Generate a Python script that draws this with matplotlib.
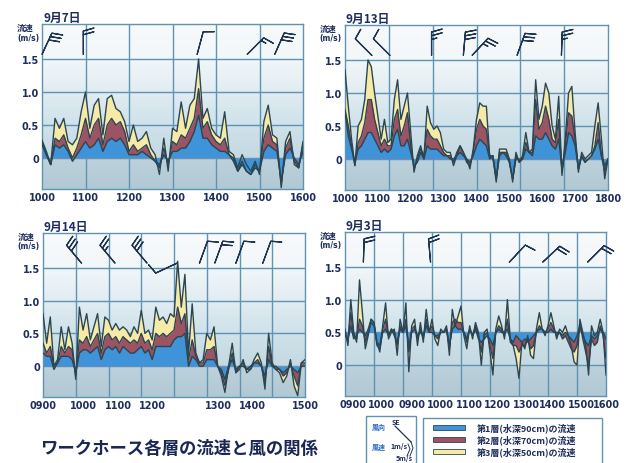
import numpy as np
import matplotlib
matplotlib.use('Agg')
import matplotlib.pyplot as plt
from matplotlib.colors import LinearSegmentedColormap
from matplotlib.patches import Rectangle

plt.rcParams['font.family'] = ['Noto Sans CJK JP', 'DejaVu Sans']

# 色
C_L1 = '#3f93d8'   # 第1層
C_L2 = '#9c5464'   # 第2層
C_L3 = '#f6eaa6'   # 第3層
C_EDGE = '#2b4652'
C_GRID = '#5f93b2'
C_TEXT = '#1d2d5c'
C_BARB = '#1f3550'

# ---- 9月7日 10:00-16:00 (6分毎) ----
d07_l3 = [0.27, 0.1, -0.1, 0.6, 0.45, 0.6, 0.25, 0.2, 0.3, 0.7,
          1.0, 0.45, 0.8, 0.9, 0.35, 0.9, 0.95, 0.75, 0.7, 0.55,
          0.25, 0.5, 0.25, 0.3, 0.4, 0.15, 0.05, -0.25, 0.3, -0.2,
          0.45, 0.4, 0.85, 0.45, 0.8, 0.9, 1.5, 0.6, 0.75, 0.45,
          0.35, 0.3, 0.7, 0.1, 0.05, -0.15, 0.05, -0.1, -0.2, -0.05,
          -0.25, 0.55, 0.8, 0.35, 0.3, -0.45, 0.25, 0.4, -0.1, -0.15,
          0.25]
d07_l2 = [0.25, 0.05, -0.1, 0.3, 0.25, 0.35, 0.15, 0.0, 0.15, 0.35,
          0.6, 0.3, 0.5, 0.6, 0.2, 0.5, 0.6, 0.5, 0.55, 0.4,
          0.1, 0.2, 0.1, 0.15, 0.2, 0.05, -0.05, -0.15, 0.15, -0.1,
          0.25, 0.2, 0.35, 0.3, 0.45, 0.6, 1.05, 0.45, 0.55, 0.35,
          0.25, 0.2, 0.3, 0.05, 0.0, -0.2, -0.05, -0.2, -0.25, -0.1,
          -0.2, 0.3, 0.5, 0.25, 0.2, -0.4, 0.15, 0.3, -0.05, -0.15,
          0.2]
d07_l1 = [0.2, 0.05, -0.1, 0.2, 0.15, 0.2, 0.1, -0.05, 0.05, 0.15,
          0.25, 0.15, 0.2, 0.3, 0.1, 0.25, 0.3, 0.25, 0.3, 0.2,
          0.05, 0.05, 0.05, 0.1, 0.05, 0.0, -0.05, -0.1, 0.05, -0.05,
          0.1, 0.1, 0.15, 0.15, 0.25, 0.4, 0.65, 0.3, 0.3, 0.2,
          0.15, 0.1, 0.1, 0.05, -0.05, -0.2, -0.1, -0.2, -0.25, -0.15,
          -0.2, 0.1, 0.2, 0.15, 0.1, -0.35, 0.05, 0.15, 0.0, -0.1,
          0.1]
d07_ticks = ['1000', '1100', '1200', '1300', '1400', '1500', '1600']
d07_barb_t = [0, 57, 214, 283, 321]
d07_barb_dir = [25, 0, 15, 45, 24]
d07_barb_spd = [6, 4, 2, 3, 6]

# ---- 9月13日 10:00-18:00 (6分毎) ----
d13_l3 = [1.35, 0.8, 0.3, -0.1, 0.5, 0.6, 0.9, 1.5, 1.4, 1.0,
          0.65, 0.3, 0.6, 0.25, 0.3, 0.9, 1.2, 0.6, 0.8, 1.0,
          0.4, -0.2, 0.05, 0.2, 0.0, 0.8, 0.55, 0.45, 0.5, 0.4,
          0.15, 0.1, 0.1, -0.1, 0.05, 0.2, 0.1, 0.0, -0.15, 0.15,
          0.6, 0.85, 0.8, 0.8, 0.05, 0.05, -0.35, 0.15, 0.15, 0.15,
          0.0, -0.35, 0.1, -0.05, 0.05, 0.4, 0.1, 0.15, 1.2, 0.6,
          0.8, 1.15, 1.0, 0.5, 0.3, 0.95, -0.25, 0.3, 1.0, 1.1,
          0.4, -0.2, 0.1, 0.0, 0.05, 0.1, 0.5, 0.85, 0.3, -0.3,
          0.0]
d13_l2 = [0.75, 0.5, 0.2, -0.1, 0.25, 0.35, 0.55, 0.9, 0.9, 0.6,
          0.4, 0.2, 0.3, 0.2, 0.2, 0.6, 0.75, 0.35, 0.5, 0.7,
          0.2, -0.15, 0.0, 0.15, 0.05, 0.45, 0.35, 0.3, 0.3, 0.2,
          0.1, 0.05, 0.05, -0.05, 0.1, 0.2, 0.1, -0.05, -0.1, 0.1,
          0.45, 0.6, 0.5, 0.45, 0.05, 0.0, -0.3, 0.1, 0.1, 0.1,
          -0.05, -0.3, 0.05, -0.05, 0.0, 0.25, 0.1, 0.1, 0.9, 0.45,
          0.55, 0.8, 0.6, 0.3, 0.25, 0.6, -0.2, 0.2, 0.7, 0.65,
          0.3, -0.15, 0.05, -0.05, 0.0, 0.05, 0.2, 0.55, 0.05, -0.2,
          0.0]
d13_l1 = [0.7, 0.35, 0.15, -0.05, 0.15, 0.2, 0.3, 0.4, 0.4, 0.3,
          0.2, 0.1, 0.15, 0.1, 0.15, 0.35, 0.45, 0.2, 0.2, 0.3,
          0.1, -0.1, -0.05, 0.1, 0.0, 0.2, 0.15, 0.15, 0.15, 0.1,
          0.05, 0.05, 0.0, 0.0, 0.05, 0.1, 0.05, 0.0, -0.05, 0.05,
          0.2, 0.3, 0.25, 0.2, 0.0, 0.05, -0.3, 0.05, 0.1, 0.05,
          -0.05, -0.3, 0.0, 0.0, 0.0, 0.15, 0.1, 0.05, 0.35, 0.3,
          0.3, 0.4, 0.3, 0.2, 0.15, 0.3, -0.15, 0.1, 0.4, 0.35,
          0.2, -0.15, 0.05, -0.05, 0.0, 0.05, 0.15, 0.3, 0.05, -0.1,
          0.0]
d13_ticks = ['1000', '1100', '1200', '1300', '1400', '1500', '1600', '1700', '1800']
d13_barb_t = [49, 82, 158, 216, 232, 314, 395]
d13_barb_dir = [315, 315, 0, 5, 43, 20, 2]
d13_barb_spd = [2, 2, 5, 6, 5, 6, 5]

# ---- 9月14日 9:00-15:00 (5分毎) ----
d14_l3 = [0.8, 0.35, 0.75, 0.0, 0.1, 0.6, 0.25, 0.6, 0.35, -0.2,
          0.9, 0.55, 0.8, 0.4, 0.6, 0.8, 0.3, 0.75, 0.7, 0.55,
          0.65, 0.55, 0.6, 0.55, 0.45, 0.6, 0.5, 0.85, 0.5, 0.55,
          0.4, 0.9, 0.7, 0.75, 0.65, 0.8, 0.75, 1.6, 0.9, 1.4,
          0.2, 0.95, 0.2, 0.05, 0.1, 0.5, 0.4, 0.6, 0.0, -0.15,
          -0.4, 0.0, 0.35, -0.1, -0.05, 0.1, -0.1, -0.05, 0.1, 0.2,
          0.05, -0.35, 0.5, 0.05, -0.05, -0.1, -0.25, -0.15, 0.1, -0.3,
          -0.45, 0.05, 0.1]
d14_l2 = [0.35, 0.2, 0.3, 0.0, 0.05, 0.3, 0.2, 0.3, 0.25, -0.15,
          0.4, 0.35, 0.45, 0.3, 0.4, 0.5, 0.2, 0.45, 0.5, 0.4,
          0.45, 0.35, 0.45, 0.4, 0.35, 0.4, 0.35, 0.5, 0.35, 0.4,
          0.25, 0.5, 0.45, 0.5, 0.45, 0.5, 0.55, 0.9, 0.65, 0.8,
          0.1, 0.4, 0.15, 0.05, 0.05, 0.25, 0.25, 0.3, 0.0, -0.1,
          -0.3, -0.05, 0.2, -0.1, 0.0, 0.05, -0.05, 0.0, 0.05, 0.1,
          0.0, -0.25, 0.3, 0.0, -0.05, -0.05, -0.15, -0.1, 0.05, -0.15,
          -0.3, 0.05, 0.05]
d14_l1 = [0.2, 0.15, 0.15, -0.05, 0.05, 0.15, 0.15, 0.15, 0.1, -0.1,
          0.2, 0.25, 0.25, 0.2, 0.25, 0.3, 0.1, 0.25, 0.3, 0.25,
          0.3, 0.2, 0.3, 0.25, 0.2, 0.2, 0.25, 0.3, 0.2, 0.25,
          0.1, 0.3, 0.3, 0.3, 0.3, 0.3, 0.4, 0.45, 0.45, 0.5,
          0.0, 0.15, 0.1, 0.0, 0.0, 0.1, 0.1, 0.1, 0.0, -0.05,
          -0.2, 0.0, 0.1, -0.05, 0.0, 0.0, -0.05, -0.05, 0.05, 0.05,
          0.0, -0.15, 0.1, 0.0, 0.0, -0.05, -0.1, -0.05, 0.0, -0.05,
          -0.1, 0.0, 0.0]
d14_ticks = ['0900', '1000', '1100', '1200', '1300', '1400', '1500']
d14_barb_t = [53, 99, 143, 184, 215, 236, 265, 302]
d14_barb_dir = [320, 320, 320, 245, 20, 20, 20, 20]
d14_barb_spd = [6, 5, 6, 2, 2, 4, 2, 2]

# ---- 9月3日 (6分毎, 基準 0.5) ----
d03_l3 = [0.55, 0.3, 1.0, 0.5, 0.35, 1.3, 0.8, 0.25, 0.45, 0.7,
          0.65, 0.35, 0.2, 0.6, 0.95, 0.4, 0.5, 0.55, 0.15, 0.7,
          0.5, 0.95, -0.1, 0.6, 0.7, 0.3, 0.65, 0.35, 0.85, 0.5,
          0.7, 0.4, 0.3, 0.55, 0.5, 0.6, 0.15, 0.85, 0.6, 0.75,
          0.9, 0.45, 0.25, 0.6, 0.4, 0.65, 0.5, 0.0, 0.5, 0.55,
          0.2, -0.15, 0.55, 0.75, 0.6, 0.4, 1.0, 0.4, 0.3, 0.1,
          -0.2, 0.35, 0.25, 0.45, 0.15, 0.1, 0.55, 0.8, 0.55, 0.45,
          0.6, 0.8, 0.6, 0.4, 0.55, 0.5, 0.6, 0.45, 0.3, 0.05,
          0.0, 0.7, 0.5, 0.3, -0.15, 0.6, 0.45, 0.5, 0.7, 0.5,
          -0.15]
d03_l2 = [0.5, 0.35, 0.8, 0.45, 0.4, 0.7, 0.6, 0.35, 0.5, 0.65,
          0.6, 0.35, 0.3, 0.55, 0.7, 0.45, 0.55, 0.5, 0.3, 0.6,
          0.5, 0.7, 0.2, 0.55, 0.6, 0.4, 0.55, 0.4, 0.7, 0.5,
          0.6, 0.45, 0.4, 0.5, 0.5, 0.55, 0.25, 0.65, 0.7, 0.65,
          0.65, 0.5, 0.35, 0.55, 0.45, 0.6, 0.45, 0.2, 0.45, 0.5,
          0.3, 0.1, 0.5, 0.6, 0.55, 0.45, 0.7, 0.35, 0.3, 0.3,
          0.2, 0.3, 0.3, 0.4, 0.25, 0.3, 0.5, 0.6, 0.55, 0.5,
          0.55, 0.65, 0.55, 0.45, 0.5, 0.4, 0.45, 0.35, 0.25, 0.2,
          0.3, 0.65, 0.4, 0.2, 0.0, 0.4, 0.3, 0.35, 0.6, 0.45,
          0.1]
d03_l1 = [0.45, 0.4, 0.6, 0.4, 0.45, 0.55, 0.5, 0.45, 0.55, 0.7,
          0.65, 0.3, 0.25, 0.5, 0.55, 0.45, 0.55, 0.45, 0.35, 0.55,
          0.5, 0.6, 0.3, 0.5, 0.55, 0.45, 0.5, 0.45, 0.6, 0.5,
          0.5, 0.45, 0.45, 0.5, 0.5, 0.55, 0.3, 0.55, 0.6, 0.55,
          0.55, 0.5, 0.4, 0.55, 0.45, 0.55, 0.4, 0.35, 0.4, 0.45,
          0.4, 0.3, 0.5, 0.55, 0.5, 0.5, 0.55, 0.4, 0.35, 0.45,
          0.4, 0.35, 0.4, 0.35, 0.4, 0.45, 0.5, 0.55, 0.55, 0.5,
          0.5, 0.55, 0.5, 0.5, 0.5, 0.45, 0.5, 0.45, 0.4, 0.35,
          0.45, 0.6, 0.45, 0.35, 0.3, 0.45, 0.4, 0.45, 0.55, 0.5,
          0.4]
d03_ticks = ['0900', '1000', '0900', '1000', '1100', '1200', '1300', '1400', '1500', '1600']
d03_barb_t = [38, 177, 340, 409, 502]
d03_barb_dir = [2, 355, 43, 47, 45]
d03_barb_spd = [4, 4, 2, 4, 4]

legend_labels = ['第1層(水深90cm)の流速', '第2層(水深70cm)の流速', '第3層(水深50cm)の流速']
y_ticks = [0, 0.5, 1.0, 1.5]
y_ticklabels = ['0', '0.5', '1.0', '1.5']

Y_LO, Y_HI = -0.47, 2.03
W, H = 626, 464

bg_cmap = LinearSegmentedColormap.from_list(
    'bg', [(0.0, '#b2c9d4'), (0.18, '#bbd1db'), (0.19, '#c4d9e2'),
           (0.4, '#d0e2ea'), (0.6, '#e2edf2'), (0.8, '#f2f7f9'), (1.0, '#f8fafb')])
grad = np.linspace(0, 1, 256).reshape(-1, 1)

fig = plt.figure(figsize=(W / 100, H / 100), dpi=100)
fig.patch.set_facecolor('white')


def add_panel(rect, title, l1, l2, l3, step, base, span, tick_frac, ticks,
              n_vgrid, barb_t, barb_dir, barb_spd):
    left, top, right, bottom = rect
    ax = fig.add_axes([left / W, 1 - bottom / H, (right - left) / W, (bottom - top) / H])
    t = np.arange(len(l1)) * step
    ax.set_xlim(0, span)
    ax.set_ylim(Y_LO, Y_HI)
    ax.imshow(grad, extent=(0, span, Y_LO, Y_HI), aspect='auto', origin='lower',
              cmap=bg_cmap, zorder=0, interpolation='bilinear')
    for k in range(1, n_vgrid):
        ax.axvline(span * k / n_vgrid, color=C_GRID, lw=1.0, zorder=1)
    for yv in y_ticks:
        ax.axhline(yv, color=C_GRID, lw=1.0, zorder=1)

    for vals, col in ((l3, C_L3), (l2, C_L2), (l1, C_L1)):
        ax.fill_between(t, base, vals, color=col, lw=0, zorder=2)
        ax.plot(t, vals, color=C_EDGE, lw=1.0, zorder=3)

    # 風向・風速 (矢羽)
    d = np.radians(barb_dir)
    spd = np.array(barb_spd, dtype=float)
    ax.barbs(barb_t, [1.57] * len(barb_t), -spd * np.sin(d), -spd * np.cos(d),
             length=5.8, color=C_BARB, linewidth=0.9, clip_on=False, zorder=4,
             barb_increments=dict(half=1, full=2, flag=10),
             sizes=dict(emptybarb=0, spacing=0.16, height=0.45))

    ax.set_xticks([f * span for f in tick_frac], ticks)
    ax.set_yticks(y_ticks, y_ticklabels)
    ax.tick_params(length=0, pad=2, labelsize=7, labelcolor=C_TEXT)
    for lab in ax.get_xticklabels() + ax.get_yticklabels():
        lab.set_fontweight('bold')
        lab.set_family('DejaVu Sans')
    for sp in ax.spines.values():
        sp.set_color(C_GRID)
        sp.set_linewidth(1.0)

    ov.text(left + 1, top - 7, title, fontsize=8.5, fontweight='bold', color=C_TEXT,
            ha='left', va='center')
    ov.text(left - 17, top + 3, '流速', fontsize=6, fontweight='bold', color=C_TEXT,
            ha='center', va='center')
    ov.text(left - 3, top + 13, '(m/s)', fontsize=5.5, fontweight='bold', color=C_TEXT,
            ha='right', va='center', family='DejaVu Sans')
    return ax


# 文字・凡例用の重ね合わせ軸 (ピクセル座標)
ov = fig.add_axes([0, 0, 1, 1], zorder=10)
ov.set_xlim(0, W)
ov.set_ylim(H, 0)
ov.axis('off')

add_panel((42, 25, 303, 190), '9月7日', d07_l1, d07_l2, d07_l3, 6, 0, 360,
          np.linspace(0, 1, 7), d07_ticks, 6, d07_barb_t, d07_barb_dir, d07_barb_spd)
add_panel((345, 26, 608, 191), '9月13日', d13_l1, d13_l2, d13_l3, 6, 0, 480,
          np.linspace(0, 1, 9), d13_ticks, 6, d13_barb_t, d13_barb_dir, d13_barb_spd)
add_panel((43, 234, 305, 398), '9月14日', d14_l1, d14_l2, d14_l3, 5, 0, 360,
          [0.0, 0.155, 0.288, 0.418, 0.67, 0.799, 1.0], d14_ticks, 8,
          d14_barb_t, d14_barb_dir, d14_barb_spd)
add_panel((345, 233, 606, 397), '9月3日', d03_l1, d03_l2, d03_l3, 6, 0.5, 540,
          [0.03, 0.14, 0.255, 0.365, 0.475, 0.585, 0.695, 0.795, 0.905, 1.0], d03_ticks, 9,
          d03_barb_t, d03_barb_dir, d03_barb_spd)

# タイトル
ov.text(40, 449, 'ワークホース各層の流速と風の関係', fontsize=12.5, fontweight='bold',
        color='#1a2755', ha='left', va='center')

# 凡例 (流速)
ov.add_patch(Rectangle((423, 419), 179, 50, fill=False, ec=C_GRID, lw=1.0, clip_on=False))
for i, (lab, col) in enumerate(zip(legend_labels, (C_L1, C_L2, C_L3))):
    yy = 428 + i * 12
    ov.add_patch(Rectangle((433, yy - 2.5), 32, 5, fc=col, ec=C_EDGE, lw=0.6))
    ov.text(477, yy, lab, fontsize=6.5, fontweight='bold', color=C_TEXT,
            ha='left', va='center')

# 凡例 (風)
ov.add_patch(Rectangle((366, 417), 50, 52, fill=False, ec=C_GRID, lw=1.0, clip_on=False))
ov.text(372, 427, '風向', fontsize=5, fontweight='bold', color='#2a6cc8', ha='left', va='center')
ov.text(372, 447, '風速', fontsize=5, fontweight='bold', color='#2a6cc8', ha='left', va='center')
ov.text(392, 423, 'SE', fontsize=5, fontweight='bold', color=C_TEXT, ha='left', va='center')
ov.text(390, 447, '1m/s', fontsize=5, fontweight='bold', color=C_TEXT, ha='left', va='center')
ov.text(396, 459, '5m/s', fontsize=5, fontweight='bold', color=C_TEXT, ha='left', va='center')
ov.plot([395, 411], [427, 443], color=C_BARB, lw=0.9)
ov.plot([411, 413, 410], [443, 449, 457], color=C_BARB, lw=0.7)
ov.plot([408, 410, 407], [445, 450, 457], color=C_BARB, lw=0.7)

fig.savefig('out.png', dpi=100)
